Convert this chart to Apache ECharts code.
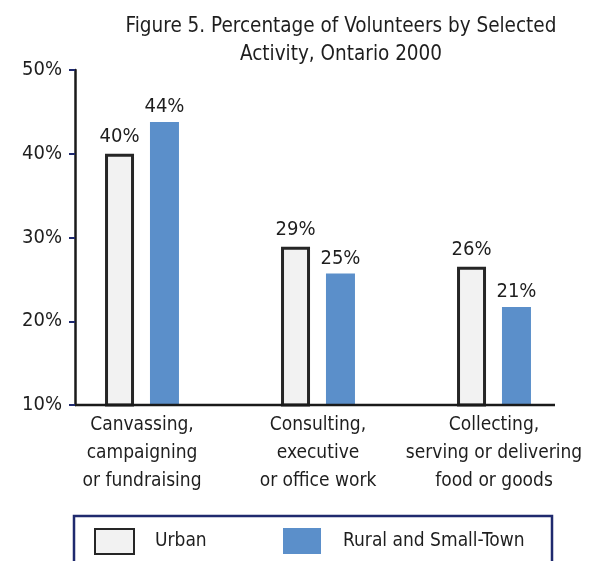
<!DOCTYPE html>
<html>
<head>
<meta charset="utf-8">
<script src="https://cdn.jsdelivr.net/npm/echarts@6/dist/echarts.min.js"></script>
<style>
html,body{margin:0;padding:0;background:#fff;}
#chart{width:592px;height:561px;}
</style>
</head>
<body>
<div id="chart"></div>
<script>
const categories = [
  'Canvassing,\ncampaigning\nor fundraising',
  'Consulting,\nexecutive\nor office work',
  'Collecting,\nserving or delivering\nfood or goods'
];
const seriesNames = ['Urban', 'Rural and Small-Town'];
const urbanValues = [40.0, 28.9, 26.5];
const ruralValues = [43.8, 25.7, 21.7];
const urbanLabels = ['40%', '29%', '26%'];
const ruralLabels = ['44%', '25%', '21%'];
const yTicks = { min: 10, max: 50, interval: 10 };

const FONT = '"DejaVu Sans Condensed", "Liberation Sans Narrow", sans-serif';
const TXT = '#1e1e1e';

const chart = echarts.init(document.getElementById('chart'), null, { renderer: 'canvas' });
chart.setOption({
  backgroundColor: '#ffffff',
  animation: false,
  title: {
    text: 'Figure 5. Percentage of Volunteers by Selected\nActivity, Ontario 2000',
    left: 336, top: 8, textAlign: 'center',
    textStyle: { fontFamily: FONT, fontSize: 20.5, fontWeight: 'normal', color: TXT, lineHeight: 28 }
  },
  legend: [
    {
      data: [seriesNames[0]], left: 89, top: 523, itemWidth: 39, itemHeight: 25,
      icon: 'rect',
      textStyle: { fontFamily: FONT, fontSize: 19, color: TXT, padding: [0, 0, 0, 16] }
    },
    {
      data: [seriesNames[1]], left: 278, top: 523, itemWidth: 38, itemHeight: 26,
      icon: 'rect',
      textStyle: { fontFamily: FONT, fontSize: 19, color: TXT, padding: [0, 0, 0, 17] }
    }
  ],
  grid: { left: 54, right: 10, top: 70, bottom: 156, containLabel: false },
  xAxis: {
    type: 'category',
    data: categories,
    axisLine: { show: false },
    axisTick: { show: false },
    axisLabel: { fontFamily: FONT, fontSize: 19, color: TXT, lineHeight: 28, margin: 6, interval: 0 }
  },
  yAxis: {
    type: 'value',
    min: yTicks.min, max: yTicks.max, interval: yTicks.interval,
    offset: -21,
    splitLine: { show: false },
    axisLine: { show: true, lineStyle: { color: '#1a1a1a', width: 2.5 } },
    axisTick: { show: true, length: 6, lineStyle: { color: '#1f2a6e', width: 2 } },
    axisLabel: { fontFamily: FONT, fontSize: 20, color: TXT, margin: 13, formatter: '{value}%' }
  },
  graphic: [
    { type: 'line', shape: { x1: 75, y1: 405, x2: 555, y2: 405 }, style: { stroke: '#1a1a1a', lineWidth: 2.5 }, z: 10 },
    { type: 'rect', shape: { x: 74, y: 516, width: 478, height: 70 }, style: { fill: 'none', stroke: '#1f2a6e', lineWidth: 2.5 } }
  ],
  series: [
    {
      name: seriesNames[0], type: 'bar', data: urbanValues, barWidth: 29, barGap: '55%',
      itemStyle: { color: '#f2f2f2', borderColor: '#262626', borderWidth: 3 },
      label: {
        show: true, position: 'top', distance: 7,
        fontFamily: FONT, fontSize: 20, color: TXT,
        formatter: p => urbanLabels[p.dataIndex]
      }
    },
    {
      name: seriesNames[1], type: 'bar', data: ruralValues, barWidth: 29, barGap: '55%',
      itemStyle: { color: '#5b8fca' },
      label: {
        show: true, position: 'top', distance: 5,
        fontFamily: FONT, fontSize: 20, color: TXT,
        formatter: p => ruralLabels[p.dataIndex]
      }
    }
  ]
});
</script>
</body>
</html>
